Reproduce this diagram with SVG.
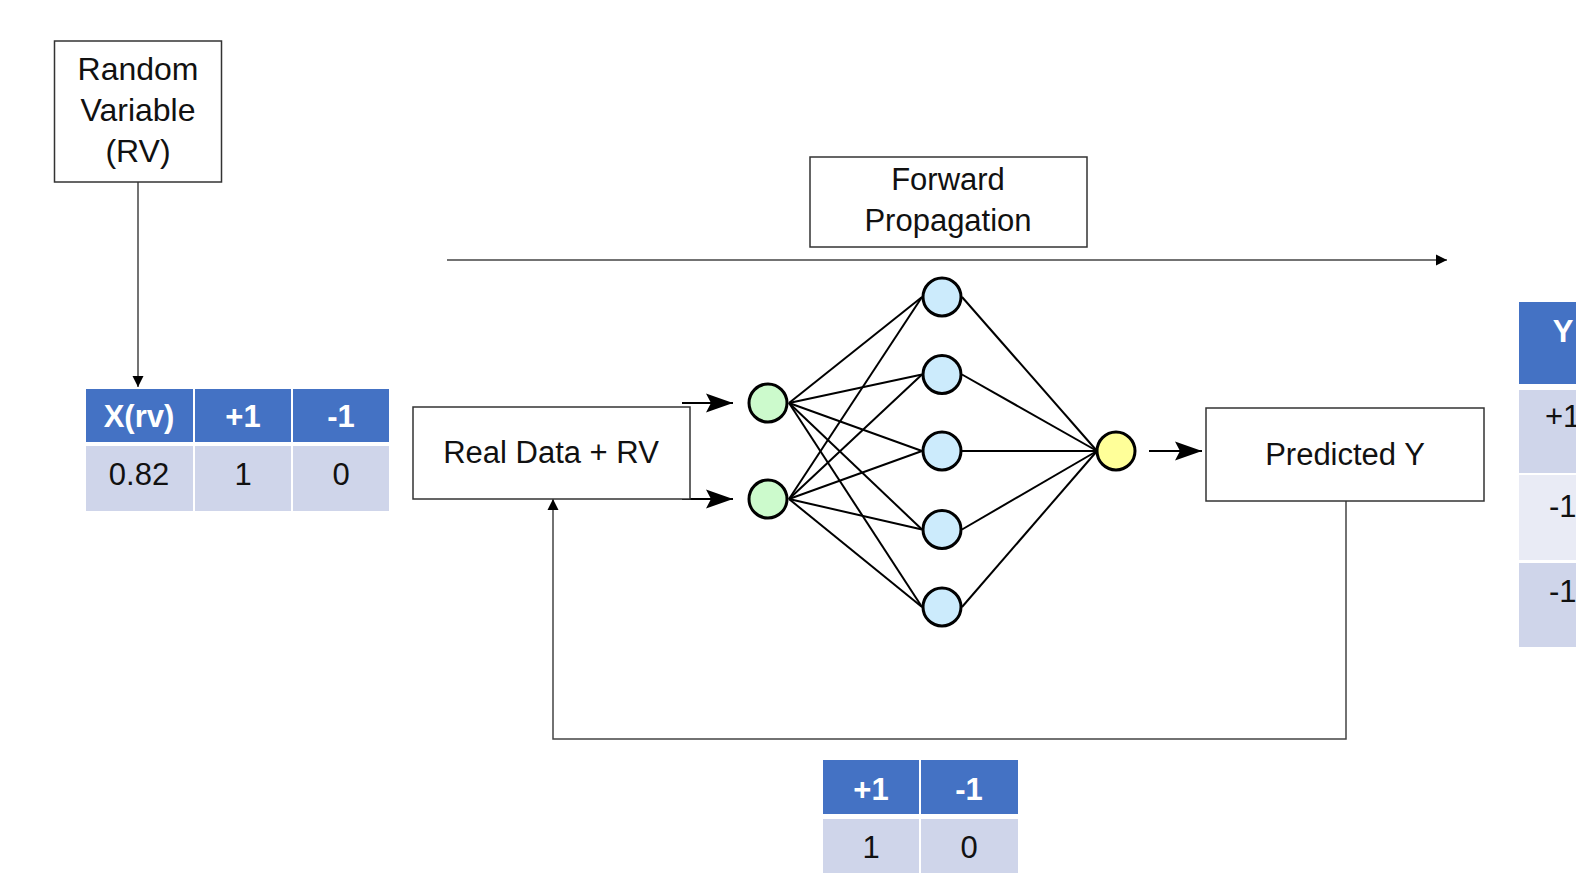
<svg xmlns="http://www.w3.org/2000/svg" width="1576" height="873" viewBox="0 0 1576 873">
<defs>
<style>
.box{fill:#fff;stroke:#333;stroke-width:1.5}
.t{font-family:"Liberation Sans",Arial,sans-serif;font-size:31px;fill:#111;text-anchor:middle}
.th{font-family:"Liberation Sans",Arial,sans-serif;font-size:31px;font-weight:bold;fill:#fff;text-anchor:middle}
.hd{fill:#4472C4}
.bd{fill:#CFD5EA}
.bl{fill:#E9EBF5}
.thin{fill:none;stroke:#444;stroke-width:1.5}
.thick{fill:none;stroke:#000;stroke-width:2}
.nn{stroke:#000;stroke-width:2}
.in{fill:#CCFACC;stroke:#000;stroke-width:3}
.hid{fill:#CCEBFC;stroke:#000;stroke-width:3}
.out{fill:#FFFF99;stroke:#000;stroke-width:3}
</style>
<marker id="sm" markerUnits="userSpaceOnUse" markerWidth="12" markerHeight="12" refX="11" refY="6" orient="auto">
<path d="M0,0.5 L11,6 L0,11.5 z" fill="#000"/>
</marker>
<marker id="bg" markerUnits="userSpaceOnUse" markerWidth="28" markerHeight="20" refX="27" refY="10" orient="auto">
<path d="M0,0.5 L27,10 L0,19.5 L5,10 z" fill="#000"/>
</marker>
</defs>
<rect width="1576" height="873" fill="#fff"/>

<g id="connectors">
<line class="thin" x1="138" y1="182" x2="138" y2="387" marker-end="url(#sm)"/>
<line class="thin" x1="447" y1="260" x2="1447" y2="260" marker-end="url(#sm)"/>
<polyline class="thin" points="1346,501 1346,739 553,739 553,499" marker-end="url(#sm)"/>
<line class="thick" x1="682" y1="403" x2="733" y2="403" marker-end="url(#bg)"/>
<line class="thick" x1="682" y1="499" x2="733" y2="499" marker-end="url(#bg)"/>
<line class="thick" x1="1149" y1="451" x2="1202" y2="451" marker-end="url(#bg)"/>
<g id="nn-edges" class="nn">
<line x1="789" y1="403" x2="922" y2="297"/>
<line x1="789" y1="403" x2="922" y2="374.5"/>
<line x1="789" y1="403" x2="922" y2="451"/>
<line x1="789" y1="403" x2="922" y2="529.5"/>
<line x1="789" y1="403" x2="922" y2="607"/>
<line x1="789" y1="499" x2="922" y2="297"/>
<line x1="789" y1="499" x2="922" y2="374.5"/>
<line x1="789" y1="499" x2="922" y2="451"/>
<line x1="789" y1="499" x2="922" y2="529.5"/>
<line x1="789" y1="499" x2="922" y2="607"/>
<line x1="962" y1="297" x2="1097" y2="451"/>
<line x1="962" y1="374.5" x2="1097" y2="451"/>
<line x1="962" y1="451" x2="1097" y2="451"/>
<line x1="962" y1="529.5" x2="1097" y2="451"/>
<line x1="962" y1="607" x2="1097" y2="451"/>
</g>
</g>

<g id="rv">
<rect class="box" x="54.5" y="41" width="167" height="141"/>
<text class="t" x="138" y="80" style="font-size:32px">Random</text>
<text class="t" x="138" y="121" style="font-size:32px">Variable</text>
<text class="t" x="138" y="162" style="font-size:32px">(RV)</text>
</g>

<g id="table-x">
<rect class="hd" x="86" y="389" width="107" height="53"/>
<rect class="hd" x="195" y="389" width="96" height="53"/>
<rect class="hd" x="293" y="389" width="96" height="53"/>
<rect class="bd" x="86" y="446" width="107" height="65"/>
<rect class="bd" x="195" y="446" width="96" height="65"/>
<rect class="bd" x="293" y="446" width="96" height="65"/>
<text class="th" x="139" y="427">X(rv)</text>
<text class="th" x="243" y="427">+1</text>
<text class="th" x="341" y="427">-1</text>
<text class="t" x="139" y="485">0.82</text>
<text class="t" x="243" y="485">1</text>
<text class="t" x="341" y="485">0</text>
</g>

<g id="forward">
<rect class="box" x="810" y="157" width="277" height="90"/>
<text class="t" x="948" y="190">Forward</text>
<text class="t" x="948" y="231">Propagation</text>
</g>

<g id="realdata">
<rect class="box" x="413" y="407" width="277" height="92"/>
<text class="t" x="551" y="463">Real Data + RV</text>
</g>

<g id="input-nodes">
<circle class="in" cx="768" cy="403" r="19"/>
<circle class="in" cx="768" cy="499" r="19"/>
</g>

<g id="hidden-nodes">
<circle class="hid" cx="942" cy="297" r="19"/>
<circle class="hid" cx="942" cy="374.5" r="19"/>
<circle class="hid" cx="942" cy="451" r="19"/>
<circle class="hid" cx="942" cy="529.5" r="19"/>
<circle class="hid" cx="942" cy="607" r="19"/>
</g>

<g id="output-node">
<circle class="out" cx="1116" cy="451" r="19"/>
</g>

<g id="predicted">
<rect class="box" x="1206" y="408" width="278" height="93"/>
<text class="t" x="1345" y="465">Predicted Y</text>
</g>

<g id="table-y">
<rect class="hd" x="1519" y="302" width="60" height="82"/>
<rect class="bd" x="1519" y="390" width="60" height="83"/>
<rect class="bl" x="1519" y="475" width="60" height="85"/>
<rect class="bd" x="1519" y="563" width="60" height="84"/>
<text class="th" x="1563" y="342">Y</text>
<text class="t" x="1545" y="427" style="text-anchor:start">+1</text>
<text class="t" x="1549" y="517" style="text-anchor:start">-1</text>
<text class="t" x="1549" y="602" style="text-anchor:start">-1</text>
</g>

<g id="table-bottom">
<rect class="hd" x="823" y="760" width="96" height="54"/>
<rect class="hd" x="921" y="760" width="97" height="54"/>
<rect class="bd" x="823" y="819" width="96" height="60"/>
<rect class="bd" x="921" y="819" width="97" height="60"/>
<text class="th" x="871" y="800">+1</text>
<text class="th" x="969" y="800">-1</text>
<text class="t" x="871" y="858">1</text>
<text class="t" x="969" y="858">0</text>
</g>
</svg>
